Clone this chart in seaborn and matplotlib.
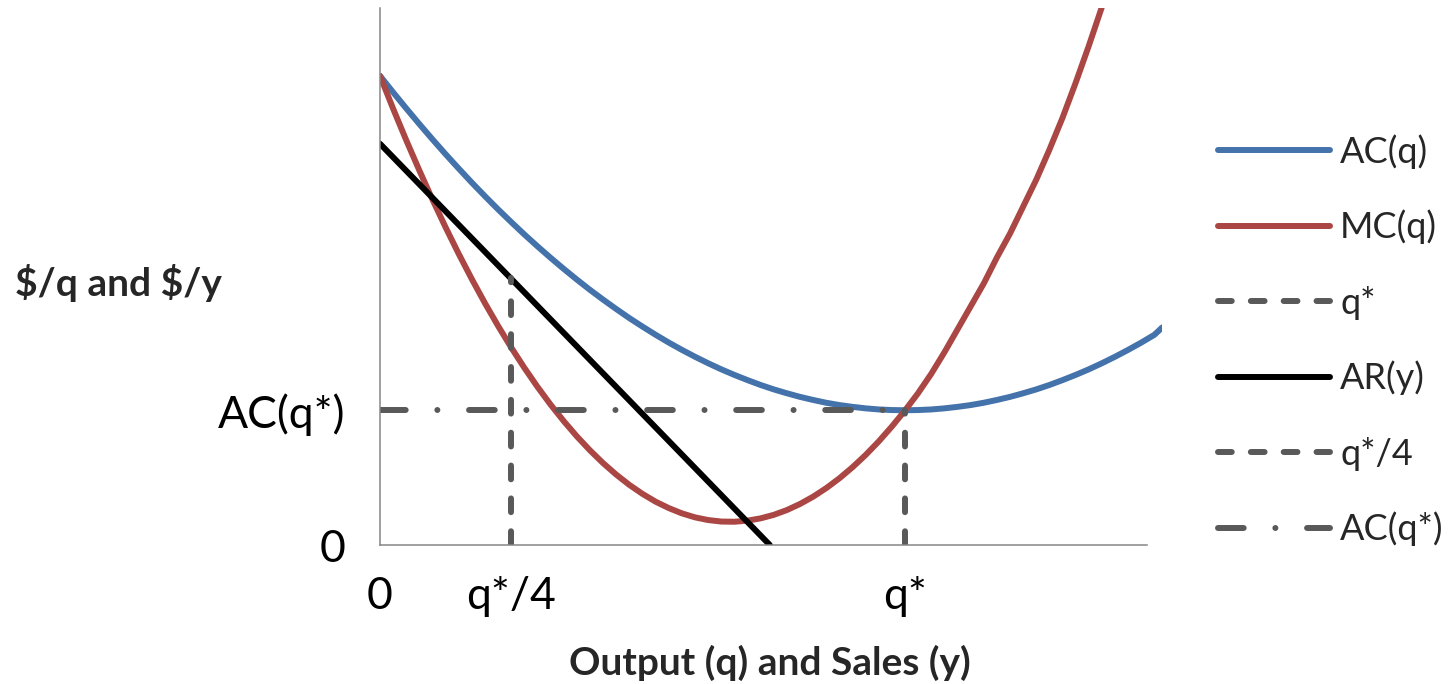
import matplotlib
matplotlib.use("Agg")
import matplotlib.pyplot as plt
import seaborn as sns

# datos (q* = 40 en el eje x)
q = list(range(0, 60)) + [59.6]
ac = [470.0, 453.5, 437.4, 421.7, 406.4, 391.5, 377.1, 363.0, 349.4, 336.2,
      323.5, 311.1, 299.2, 287.7, 276.6, 265.9, 255.6, 245.8, 236.4, 227.3,
      218.8, 210.6, 202.8, 195.5, 188.6, 182.1, 176.0, 170.4, 165.2, 160.3,
      155.9, 152.0, 148.4, 145.3, 142.5, 140.2, 138.4, 136.9, 135.8, 135.2,
      135.0, 135.2, 135.8, 136.9, 138.4, 140.2, 142.5, 145.3, 148.4, 152.0,
      155.9, 160.3, 165.2, 170.4, 176.0, 182.1, 188.6, 195.5, 202.8, 210.6,
      218.0]

q_mc = list(range(0, 57))
mc = [470.0, 437.1, 405.5, 375.2, 346.0, 318.2, 291.6, 266.3, 242.2, 219.4,
      197.8, 177.5, 158.4, 140.6, 124.1, 108.8, 94.8, 82.0, 70.5, 60.2,
      51.2, 43.4, 37.0, 31.7, 27.7, 25.0, 23.5, 23.3, 24.4, 26.7,
      30.2, 35.0, 41.1, 48.4, 57.0, 66.8, 77.9, 90.2, 103.8, 118.7,
      134.8, 152.2, 171.5, 193.0, 216.0, 239.0, 262.0, 288.0, 312.0, 339.0,
      366.0, 396.0, 428.0, 463.0, 500.0, 539.0, 580.0]

q_ar = [0, 29.7]
ar = [402, 0]

q_star = [40, 40]
q_star_y = [0, 135]
q_cuarto = [10, 10]
q_cuarto_y = [0, 267]
ac_star_x = [0, 40]
ac_star_y = [135, 135]

xticks = [0, 10, 40]
xtick_labels = ["0", "q*/4", "q*"]
yticks = [0, 135]
ytick_labels = ["0", "AC(q*)"]

sns.set_style("white")
plt.rcParams["font.family"] = ["Lato", "DejaVu Sans"]

fig = plt.figure(figsize=(14.55, 6.84), dpi=100)
ax = fig.add_axes([380 / 1455, 139 / 684, 782 / 1455, 537 / 684])

azul = "#4472AA"
rojo = "#AA4643"
gris = "#595959"
lw = 4.3
guiones = (0, (2.3, 3.2))
punto_raya = (0, (4.3, 5.3, 0.01, 5.3))

sns.lineplot(x=q, y=ac, ax=ax, color=azul, lw=lw, sort=False, estimator=None, label="AC(q)")
sns.lineplot(x=q_mc, y=mc, ax=ax, color=rojo, lw=lw, sort=False, estimator=None, label="MC(q)")
sns.lineplot(x=q_star, y=q_star_y, ax=ax, color=gris, lw=lw, sort=False, estimator=None,
             label="q*", linestyle=guiones)
sns.lineplot(x=q_ar, y=ar, ax=ax, color="black", lw=lw, sort=False, estimator=None, label="AR(y)")
sns.lineplot(x=q_cuarto, y=q_cuarto_y, ax=ax, color=gris, lw=lw, sort=False, estimator=None,
             label="q*/4", linestyle=guiones)
sns.lineplot(x=ac_star_x, y=ac_star_y, ax=ax, color=gris, lw=lw, sort=False, estimator=None,
             label="AC(q*)", linestyle=punto_raya)

for linea in ax.lines:
    linea.set_dash_capstyle("round")
    linea.set_solid_capstyle("round")
    linea.set_solid_joinstyle("round")

ax.set_xlim(0, 59.58)
ax.set_ylim(0, 538)

for s in ["top", "right"]:
    ax.spines[s].set_visible(False)
for s in ["left", "bottom"]:
    ax.spines[s].set_color("#868686")
    ax.spines[s].set_linewidth(1.1)
ax.spines["bottom"].set_bounds(0, 58.44)

ax.set_xticks(xticks)
ax.set_xticklabels(xtick_labels)
ax.set_yticks(yticks)
ax.set_yticklabels(ytick_labels)
ax.set_xticks([0], minor=True)
ax.set_yticks([0], minor=True)
ax.tick_params(which="major", length=0, labelsize=32, colors="black")
ax.tick_params(axis="x", which="major", pad=22)
ax.tick_params(axis="y", which="major", pad=25)
ax.tick_params(axis="x", which="minor", length=10.8, width=1.1, color="#868686", direction="out", bottom=True)
ax.tick_params(axis="y", which="minor", length=9.4, width=1.1, color="#868686", direction="out", left=True)

ax.set_xlabel("Output (q) and Sales (y)", fontsize=28, fontweight="bold")
ax.xaxis.set_label_coords(0.4987, -0.2197)
ax.xaxis.label.set_va("center")
ax.set_ylabel("\\$/q and \\$/y", fontsize=28, fontweight="bold", rotation=0)
ax.yaxis.set_label_coords(-0.4668, 0.488)
ax.yaxis.label.set_ha("left")
ax.yaxis.label.set_va("center")

ax.legend(loc="upper left", bbox_to_anchor=(1218 / 1455, 1 - 134 / 684),
          bbox_transform=fig.transFigure, frameon=False, fontsize=26,
          handlelength=3.1, handletextpad=0.28, labelspacing=1.14,
          borderaxespad=0, borderpad=0)

fig.savefig("out.png", dpi=100)
